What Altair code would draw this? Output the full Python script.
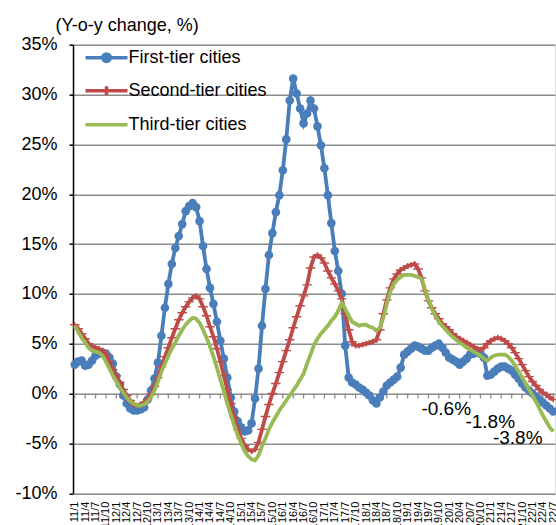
import json
import altair as alt
import pandas as pd

# Category tick labels (every third month, Jan 2011 - Jul 2022)
tick_labels = [
    "11/1", "11/4", "11/7", "11/10", "12/1", "12/4", "12/7", "12/10",
    "13/1", "13/4", "13/7", "13/10", "14/1", "14/4", "14/7", "14/10",
    "15/1", "15/4", "15/7", "15/10", "16/1", "16/4", "16/7", "16/10",
    "17/1", "17/4", "17/7", "17/10", "18/1", "18/4", "18/7", "18/10",
    "19/1", "19/4", "19/7", "19/10", "20/1", "20/4", "20/7", "20/10",
    "21/1", "21/4", "21/7", "21/10", "22/1", "22/4", "22/7",
]

series_names = ["First-tier cities", "Second-tier cities", "Third-tier cities"]
series_colors = ["#4a7ebb", "#be4b48", "#98b954"]

# Monthly y-o-y change of new home prices, %
first_tier = [
    2.9, 3.2, 3.3, 2.8, 2.9, 3.3, 3.8, 4.0, 4.1, 4.0,
    3.6, 3.0, 1.7, 0.9, -0.2, -1.0, -1.5, -1.7, -1.7, -1.6,
    -1.4, -0.6, 0.3, 1.5, 3.1, 5.8, 8.6, 11.0, 13.0, 14.6,
    15.8, 17.0, 18.3, 18.8, 19.1, 18.7, 17.3, 14.8, 12.5, 10.6,
    9.0, 7.2, 5.3, 3.5, 1.6, -0.4, -1.8, -2.8, -3.4, -3.8,
    -3.7, -3.0, -0.5, 2.5, 6.8, 10.5, 13.9, 16.1, 18.2, 19.9,
    22.4, 25.5, 29.4, 31.6, 30.1, 28.6, 27.1, 28.1, 29.4, 28.6,
    26.8, 24.9, 22.6, 19.9, 17.1, 14.3, 12.3, 10.0, 4.8, 1.6,
    1.1, 0.9, 0.6, 0.4, 0.1, -0.2, -0.7, -1.0, -0.4, 0.2,
    0.8, 1.1, 1.4, 1.7, 2.6, 3.9, 4.2, 4.5, 4.8, 4.7,
    4.5, 4.3, 4.3, 4.6, 4.8, 5.0, 4.6, 4.1, 3.6, 3.4,
    3.2, 2.9, 3.2, 3.5, 3.9, 4.0, 4.1, 4.0, 3.6, 1.8,
    1.9, 2.2, 2.5, 2.7, 2.7, 2.5, 2.3, 1.9, 1.5, 1.0,
    0.6, 0.3, 0.0, -0.3, -0.6, -0.9, -1.2, -1.5, -1.8,
]
second_tier = [
    6.9, 6.5, 6.0, 5.5, 5.0, 4.7, 4.6, 4.5, 4.3, 3.9,
    3.2, 2.4, 1.8, 1.1, 0.4, -0.2, -0.7, -1.1, -1.2, -1.1,
    -0.9, -0.6, -0.1, 0.7, 1.6, 2.7, 3.7, 4.6, 5.6, 6.5,
    7.4, 8.1, 8.7, 9.2, 9.6, 9.8, 9.5, 8.7, 7.8, 6.7,
    5.7, 4.5, 3.2, 1.8, 0.4, -1.0, -2.4, -3.6, -4.5, -5.2,
    -5.6, -5.8, -5.6, -4.9, -3.6, -2.3, -1.1, 0.0, 1.0, 2.1,
    3.2, 4.3, 5.4, 6.6, 7.7, 8.8, 9.8, 10.9, 12.6, 13.7,
    13.9, 13.6, 13.1, 12.3, 11.6, 11.0, 10.3, 9.5, 8.0, 6.4,
    5.2, 4.8, 4.8, 4.9, 5.0, 5.1, 5.2, 5.4, 6.4, 8.0,
    9.4, 10.6, 11.5, 12.0, 12.4, 12.6, 12.8, 12.9, 13.0, 12.5,
    11.6, 10.3, 9.3, 8.6, 8.0, 7.5, 7.0, 6.7, 6.4, 6.0,
    5.7, 5.5, 5.3, 5.1, 4.9, 4.7, 4.5, 4.4, 4.6, 5.0,
    5.3, 5.5, 5.6, 5.5, 5.3, 5.0, 4.6, 4.1, 3.5, 2.9,
    2.3, 1.7, 1.2, 0.8, 0.4, 0.1, -0.1, -0.4, -0.6,
]
third_tier = [
    6.8, 6.2, 5.6, 5.1, 4.6, 4.3, 4.2, 4.1, 3.8, 3.2,
    2.5, 1.8, 1.2, 0.6, 0.1, -0.4, -0.8, -1.0, -1.2, -1.2,
    -1.1, -0.8, -0.4, 0.3, 1.2, 2.2, 3.0, 3.8, 4.5, 5.1,
    5.8, 6.4, 6.9, 7.3, 7.6, 7.5, 7.1, 6.4, 5.6, 4.7,
    3.7, 2.6, 1.4, 0.2, -1.0, -2.1, -3.2, -4.2, -5.0, -5.8,
    -6.3, -6.6, -6.7, -6.2, -5.3, -4.5, -3.6, -2.9, -2.3, -1.7,
    -1.2, -0.7, -0.2, 0.3, 0.8, 1.4, 2.0, 3.0, 3.9, 4.9,
    5.5, 6.0, 6.4, 6.8, 7.3, 7.7, 8.3, 9.1, 8.5, 7.8,
    7.2, 7.0, 6.8, 6.9, 6.9, 6.7, 6.6, 6.3, 6.6, 7.6,
    9.0, 10.2, 11.0, 11.4, 11.7, 11.9, 11.9, 11.9, 11.8, 11.7,
    11.5, 10.5, 9.4, 8.5, 7.8, 7.2, 6.8, 6.4, 6.0, 5.7,
    5.4, 5.1, 4.9, 4.6, 4.4, 4.2, 4.0, 3.8, 3.5, 3.3,
    3.6, 3.8, 3.9, 3.9, 3.9, 3.7, 3.3, 2.8, 2.2, 1.6,
    1.0, 0.4, -0.2, -0.8, -1.5, -2.2, -2.8, -3.4, -3.8,
]

FONT = "Liberation Sans"
n_months = len(first_tier)
last = n_months - 1

rows = []
for name, vals in zip(series_names, [first_tier, second_tier, third_tier]):
    for i, v in enumerate(vals):
        rows.append({"idx": i, "series": name, "value": v})
df = pd.DataFrame(rows)

tick_positions = [3 * k for k in range(len(tick_labels))]
ticks_df = pd.DataFrame({"idx": tick_positions, "value": [0] * len(tick_positions)})

x_enc = alt.X(
    "idx:Q",
    scale=alt.Scale(domain=[-0.5, n_months - 0.5], nice=False, zero=False),
    axis=alt.Axis(
        values=tick_positions,
        labelExpr=json.dumps(tick_labels) + "[round(datum.value / 3)]",
        labelAngle=270, labelAlign="right", labelBaseline="middle",
        labelFontSize=11, labelPadding=8, labelColor="black",
        labelOverlap=False, labelFlush=False,
        domain=False, ticks=False, grid=False, title=None,
    ),
)
y_enc = alt.Y(
    "value:Q",
    scale=alt.Scale(domain=[-10, 35], nice=False, zero=False),
    axis=alt.Axis(
        values=list(range(-10, 40, 5)),
        labelExpr="datum.value + '%'",
        labelFontSize=18, labelColor="black", labelPadding=12,
        domain=True, domainColor="black", domainWidth=1.5,
        ticks=True, tickColor="black", tickSize=4, tickWidth=1.5,
        grid=True, gridColor="#8c8c8c", gridWidth=1.5,
        title="(Y-o-y change, %)", titleAngle=0, titleAlign="left",
        titleBaseline="alphabetic", titleX=-18, titleY=-14,
        titleFontSize=18, titleFontWeight="normal", titleColor="black",
    ),
)

base = alt.Chart(df).encode(x=x_enc, y=y_enc)

# tick marks hanging below the 0% category axis line
zero_ticks = alt.Chart(ticks_df).mark_tick(
    orient="vertical", size=5, thickness=1.3, color="#8c8c8c", yOffset=2.5, opacity=1
).encode(x=x_enc, y=y_enc)


def one(name):
    return base.transform_filter(alt.datum.series == name)


blue_line = one(series_names[0]).mark_line(color=series_colors[0], strokeWidth=3.8)
blue_pts = one(series_names[0]).mark_point(
    shape="circle", filled=True, size=75, color=series_colors[0], opacity=1
)
red_line = one(series_names[1]).mark_line(color=series_colors[1], strokeWidth=3.8)
red_pts = one(series_names[1]).mark_point(
    shape="M-1,0H1M0,-0.6V0.6", filled=False, size=90, strokeWidth=1.4,
    color=series_colors[1], opacity=1,
)
green_line = one(series_names[2]).mark_line(color=series_colors[2], strokeWidth=3.8)

legend_paths = [
    "M-1.5,0H1.5M0.27,0A0.27,0.27,0,1,1,-0.27,0A0.27,0.27,0,1,1,0.27,0Z",
    "M-1.5,0H1.5M0,-0.32V0.32",
    "M-1.5,0H1.5",
]
leg = alt.Legend(
    title=None, orient="none", legendX=17.5, legendY=-3, padding=0,
    symbolSize=784, symbolStrokeWidth=3.5, symbolOpacity=1,
    labelFontSize=18, labelFont=FONT, labelColor="black",
    labelOffset=6, rowPadding=6,
)
legend_layer = base.transform_filter("false").mark_point(
    filled=True, opacity=1, strokeWidth=3.5
).encode(
    shape=alt.Shape("series:N", scale=alt.Scale(domain=series_names, range=legend_paths), legend=leg),
    fill=alt.Fill("series:N", scale=alt.Scale(domain=series_names, range=series_colors), legend=leg),
    stroke=alt.Stroke("series:N", scale=alt.Scale(domain=series_names, range=series_colors), legend=leg),
)

# latest readings, written beside the line ends
end_df = pd.DataFrame({
    "idx": [last] * 3,
    "series": series_names,
    "value": [first_tier[last], second_tier[last], third_tier[last]],
})
end_df["text"] = end_df["value"].map(lambda v: f"{v:.1f}%")
label_order = [1, 0, 2]
end_offsets = [(-107, 9.5), (-63, 10.5), (-35.5, 6.5)]
end_layers = []
for k, (dx, dy) in zip(label_order, end_offsets):
    end_layers.append(
        alt.Chart(end_df.iloc[[k]]).mark_text(
            fontSize=19, font=FONT, color="black", align="center", baseline="middle",
            dx=dx, dy=dy,
        ).encode(x=x_enc, y=y_enc, text="text:N")
    )

chart = alt.layer(
    zero_ticks, blue_line, blue_pts, red_line, red_pts, green_line, legend_layer, *end_layers
).properties(
    width=482, height=448.5,
    padding={"left": 73, "top": 44.7, "right": 1, "bottom": 32},
    autosize=alt.AutoSizeParams(type="none"),
).configure_view(stroke=None).configure(font=FONT)

chart.save("out.html", embed_options={"renderer": "svg", "actions": False})
